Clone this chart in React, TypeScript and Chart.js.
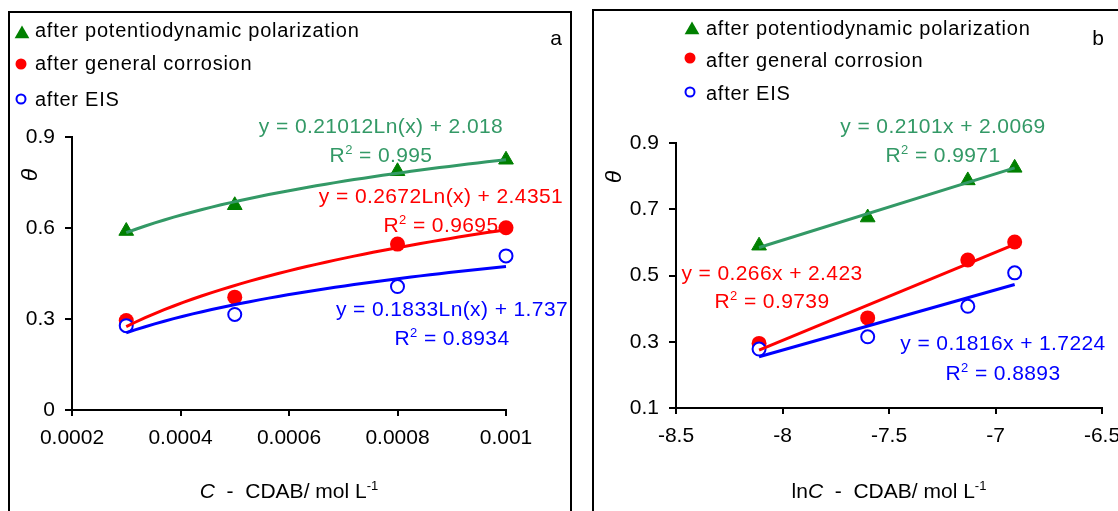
import React, { useEffect, useRef } from 'react';
import { Chart, registerables } from 'chart.js';

Chart.register(...registerables);

// ---------- data ----------
const concentration = [0.0003, 0.0005, 0.0008, 0.001];
const lnConcentration = [-8.11, -7.6, -7.13, -6.91];
const thetaPolarization = [0.59, 0.675, 0.787, 0.825];
const thetaCorrosion = [0.295, 0.372, 0.547, 0.601];
const thetaEIS = [0.278, 0.315, 0.407, 0.508];

const seriesNames = [
  'after potentiodynamic polarization',
  'after general corrosion',
  'after EIS',
];

const xTicksA = [0.0002, 0.0004, 0.0006, 0.0008, 0.001];
const xTickLabelsA = ['0.0002', '0.0004', '0.0006', '0.0008', '0.001'];
const yTicksA = [0, 0.3, 0.6, 0.9];
const yTickLabelsA = ['0', '0.3', '0.6', '0.9'];

const xTicksB = [-8.5, -8, -7.5, -7, -6.5];
const xTickLabelsB = ['-8.5', '-8', '-7.5', '-7', '-6.5'];
const yTicksB = [0.1, 0.3, 0.5, 0.7, 0.9];
const yTickLabelsB = ['0.1', '0.3', '0.5', '0.7', '0.9'];

const equationsA = [
  'y = 0.21012Ln(x) + 2.018',
  'y = 0.2672Ln(x) + 2.4351',
  'y = 0.1833Ln(x) + 1.737',
];
const rSquaredA = ['0.995', '0.9695', '0.8934'];
const equationsB = [
  'y = 0.2101x + 2.0069',
  'y = 0.266x + 2.423',
  'y = 0.1816x + 1.7224',
];
const rSquaredB = ['0.9971', '0.9739', '0.8893'];

// ---------- styles ----------
const FONT = '"Liberation Sans", Arial, Helvetica, sans-serif';
const MARKER_COLORS = ['#008000', '#ff0000', '#0000ff'];
const LINE_COLORS = ['#339966', '#ff0000', '#0000ff'];

function linFit(xs: number[], ys: number[]) {
  const n = xs.length;
  const mx = xs.reduce((a, b) => a + b, 0) / n;
  const my = ys.reduce((a, b) => a + b, 0) / n;
  let sxy = 0;
  let sxx = 0;
  for (let i = 0; i < n; i++) {
    sxy += (xs[i] - mx) * (ys[i] - my);
    sxx += (xs[i] - mx) * (xs[i] - mx);
  }
  const slope = sxy / sxx;
  return { slope, intercept: my - slope * mx };
}

// least-squares trendline of the plotted data (log or linear)
function trendPoints(xs: number[], ys: number[], log: boolean) {
  const n = xs.length;
  if (!log) {
    const f = linFit(xs, ys);
    return [xs[0], xs[n - 1]].map((x) => ({ x, y: f.slope * x + f.intercept }));
  }
  const f = linFit(xs.map(Math.log), ys);
  const pts: { x: number; y: number }[] = [];
  const steps = 40;
  for (let i = 0; i <= steps; i++) {
    const x = xs[0] + ((xs[n - 1] - xs[0]) * i) / steps;
    pts.push({ x, y: f.slope * Math.log(x) + f.intercept });
  }
  return pts;
}

function drawMarker(ctx: CanvasRenderingContext2D, kind: number, x: number, y: number) {
  ctx.save();
  if (kind === 0) {
    const r = 8.5;
    ctx.fillStyle = MARKER_COLORS[0];
    ctx.beginPath();
    ctx.moveTo(x, y - r);
    ctx.lineTo(x + r * 0.866, y + r * 0.5);
    ctx.lineTo(x - r * 0.866, y + r * 0.5);
    ctx.closePath();
    ctx.fill();
  } else if (kind === 1) {
    ctx.fillStyle = MARKER_COLORS[1];
    ctx.beginPath();
    ctx.arc(x, y, 5.5, 0, Math.PI * 2);
    ctx.fill();
  } else {
    ctx.fillStyle = '#fff';
    ctx.strokeStyle = MARKER_COLORS[2];
    ctx.lineWidth = 2;
    ctx.beginPath();
    ctx.arc(x, y, 4.5, 0, Math.PI * 2);
    ctx.fill();
    ctx.stroke();
  }
  ctx.restore();
}

type Part = { t: string; italic?: boolean; sup?: boolean };

function drawRich(ctx: CanvasRenderingContext2D, parts: Part[], cx: number, base: number, size: number, color: string, spacing = '0px') {
  ctx.save();
  ctx.fillStyle = color;
  ctx.textAlign = 'left';
  ctx.textBaseline = 'alphabetic';
  (ctx as any).letterSpacing = spacing;
  const fontOf = (p: Part) => `${p.italic ? 'italic ' : ''}${p.sup ? Math.round(size * 0.62) : size}px ${FONT}`;
  let total = 0;
  const widths = parts.map((p) => {
    ctx.font = fontOf(p);
    const w = ctx.measureText(p.t).width;
    total += w;
    return w;
  });
  let x = cx - total / 2;
  parts.forEach((p, i) => {
    ctx.font = fontOf(p);
    ctx.fillText(p.t, x, p.sup ? base - size * 0.4 : base);
    x += widths[i];
  });
  ctx.restore();
}

type PanelSpec = {
  xs: number[];
  log: boolean;
  xMin: number;
  xMax: number;
  xTicks: number[];
  xLabels: string[];
  yMin: number;
  yMax: number;
  yTicks: number[];
  yLabels: string[];
  equations: string[];
  rSquared: string[];
  width: number;
  height: number;
  padTop: number;
  padRight: number;
  yAxisWidth: number;
  xAxisHeight: number;
  legendMarkerX: number[];
  legendMarkerY: number[];
  legendTextX: number;
  legendBase: number[];
  eqPos: number[][];
  panelLabel: string;
  panelLabelPos: number[];
  thetaPos: number[];
  xTitle: Part[];
  xTitlePos: number[];
};

function Panel({ spec, left, top }: { spec: PanelSpec; left: number; top: number }) {
  const ref = useRef<HTMLCanvasElement | null>(null);

  useEffect(() => {
    const canvas = ref.current;
    if (!canvas) return;
    const series = [thetaPolarization, thetaCorrosion, thetaEIS];

    const overlay = {
      id: 'overlay',
      afterDraw(chart: any) {
        const ctx: CanvasRenderingContext2D = chart.ctx;
        // legend
        series.forEach((_, i) => {
          drawMarker(ctx, i, spec.legendMarkerX[i], spec.legendMarkerY[i]);
          ctx.save();
          ctx.font = `20px ${FONT}`;
          (ctx as any).letterSpacing = '0.75px';
          ctx.fillStyle = '#000';
          ctx.textAlign = 'left';
          ctx.textBaseline = 'alphabetic';
          ctx.fillText(seriesNames[i], spec.legendTextX, spec.legendBase[i]);
          ctx.restore();
        });
        // equations
        spec.equations.forEach((eq, i) => {
          const [cx, b1, b2] = spec.eqPos[i];
          drawRich(ctx, [{ t: eq }], cx, b1, 21, LINE_COLORS[i], '0.4px');
          drawRich(ctx, [{ t: 'R' }, { t: '2', sup: true }, { t: ' = ' + spec.rSquared[i] }], cx, b2, 21, LINE_COLORS[i], '0.4px');
        });
        // panel label
        ctx.save();
        ctx.font = `21px ${FONT}`;
        ctx.fillStyle = '#000';
        ctx.textAlign = 'center';
        ctx.fillText(spec.panelLabel, spec.panelLabelPos[0], spec.panelLabelPos[1]);
        ctx.restore();
        // y title (theta)
        ctx.save();
        ctx.translate(spec.thetaPos[0], spec.thetaPos[1]);
        ctx.rotate(-Math.PI / 2);
        ctx.font = `italic 23px ${FONT}`;
        ctx.fillStyle = '#000';
        ctx.textAlign = 'center';
        ctx.textBaseline = 'middle';
        ctx.fillText('θ', 0, 0);
        ctx.restore();
        // x title
        drawRich(ctx, spec.xTitle, spec.xTitlePos[0], spec.xTitlePos[1], 21, '#000');
      },
    };

    const tickFont = { family: FONT, size: 21 };
    const chart = new Chart(canvas, {
      type: 'scatter',
      data: {
        datasets: [
          ...series.map((ys, i) => ({
            label: seriesNames[i] + ' trend',
            data: trendPoints(spec.xs, ys, spec.log),
            showLine: true,
            borderColor: LINE_COLORS[i],
            borderWidth: 3,
            pointRadius: 0,
            fill: false,
            clip: false,
            order: 0,
          })),
          {
            label: seriesNames[2],
            data: spec.xs.map((x, j) => ({ x, y: thetaEIS[j] })),
            pointStyle: 'circle',
            pointRadius: 6.5,
            backgroundColor: '#ffffff',
            borderColor: MARKER_COLORS[2],
            borderWidth: 2,
            clip: false,
            order: 1,
          },
          {
            label: seriesNames[1],
            data: spec.xs.map((x, j) => ({ x, y: thetaCorrosion[j] })),
            pointStyle: 'circle',
            pointRadius: 7.5,
            backgroundColor: MARKER_COLORS[1],
            borderColor: MARKER_COLORS[1],
            borderWidth: 0,
            clip: false,
            order: 2,
          },
          {
            label: seriesNames[0],
            data: spec.xs.map((x, j) => ({ x, y: thetaPolarization[j] })),
            pointStyle: 'triangle',
            pointRadius: 8.5,
            backgroundColor: MARKER_COLORS[0],
            borderColor: MARKER_COLORS[0],
            borderWidth: 1,
            clip: false,
            order: 3,
          },
        ] as any,
      },
      options: {
        animation: false,
        responsive: false,
        devicePixelRatio: 1,
        events: [],
        layout: { padding: { left: 0, top: spec.padTop, right: spec.padRight, bottom: 0 } },
        plugins: { legend: { display: false }, tooltip: { enabled: false }, title: { display: false } },
        scales: {
          x: {
            type: 'linear',
            min: spec.xMin,
            max: spec.xMax,
            afterBuildTicks: (s: any) => {
              s.ticks = spec.xTicks.map((v) => ({ value: v }));
            },
            afterFit: (s: any) => {
              s.height = spec.xAxisHeight;
            },
            ticks: {
              callback: (_v: any, i: number) => spec.xLabels[i],
              font: tickFont,
              color: '#000',
              padding: 10,
              maxRotation: 0,
              autoSkip: false,
            },
            grid: { drawOnChartArea: false, drawTicks: true, tickLength: 6, color: '#000', lineWidth: 2 },
            border: { display: true, color: '#000', width: 2 },
          },
          y: {
            type: 'linear',
            min: spec.yMin,
            max: spec.yMax,
            afterBuildTicks: (s: any) => {
              s.ticks = spec.yTicks.map((v) => ({ value: v }));
            },
            afterFit: (s: any) => {
              s.width = spec.yAxisWidth;
            },
            ticks: {
              callback: (_v: any, i: number) => spec.yLabels[i],
              font: tickFont,
              color: '#000',
              padding: 10,
              autoSkip: false,
            },
            grid: { drawOnChartArea: false, drawTicks: true, tickLength: 7, color: '#000', lineWidth: 2 },
            border: { display: true, color: '#000', width: 2 },
          },
        },
      } as any,
      plugins: [overlay],
    });
    return () => chart.destroy();
  }, [spec]);

  return (
    <canvas
      ref={ref}
      width={spec.width}
      height={spec.height}
      style={{ position: 'absolute', left, top, width: spec.width, height: spec.height }}
    />
  );
}

const specA: PanelSpec = {
  xs: concentration,
  log: true,
  xMin: 0.0002,
  xMax: 0.001,
  xTicks: xTicksA,
  xLabels: xTickLabelsA,
  yMin: 0,
  yMax: 0.9,
  yTicks: yTicksA,
  yLabels: yTickLabelsA,
  equations: equationsA,
  rSquared: rSquaredA,
  width: 560,
  height: 498,
  padTop: 124,
  padRight: 64,
  yAxisWidth: 62,
  xAxisHeight: 101,
  legendMarkerX: [12, 11, 11],
  legendMarkerY: [21, 51, 86],
  legendTextX: 25,
  legendBase: [24, 57, 93],
  eqPos: [
    [371, 120, 149],
    [431, 190, 219],
    [442, 303, 332],
  ],
  panelLabel: 'a',
  panelLabelPos: [546, 32],
  thetaPos: [21, 162],
  xTitle: [{ t: 'C', italic: true }, { t: '  -  CDAB/ mol L' }, { t: '-1', sup: true }],
  xTitlePos: [279, 485],
};

const specB: PanelSpec = {
  xs: lnConcentration,
  log: false,
  xMin: -8.5,
  xMax: -6.5,
  xTicks: xTicksB,
  xLabels: xTickLabelsB,
  yMin: 0.1,
  yMax: 0.9,
  yTicks: yTicksB,
  yLabels: yTickLabelsB,
  equations: equationsB,
  rSquared: rSquaredB,
  width: 560,
  height: 500,
  padTop: 132,
  padRight: 52,
  yAxisWidth: 82,
  xAxisHeight: 103,
  legendMarkerX: [98, 96, 96],
  legendMarkerY: [19, 47, 81],
  legendTextX: 112,
  legendBase: [24, 56, 89],
  eqPos: [
    [349, 122, 151],
    [178, 269, 297],
    [409, 339, 369],
  ],
  panelLabel: 'b',
  panelLabelPos: [504, 34],
  thetaPos: [21, 166],
  xTitle: [{ t: 'ln' }, { t: 'C', italic: true }, { t: '  -  CDAB/ mol L' }, { t: '-1', sup: true }],
  xTitlePos: [295, 487],
};

export default function App() {
  return (
    <div
      style={{
        position: 'absolute',
        left: 0,
        top: 0,
        width: 1118,
        height: 511,
        overflow: 'hidden',
        background: '#fff',
      }}
    >
      <div
        style={{
          position: 'absolute',
          left: 8,
          top: 11,
          width: 564,
          height: 600,
          border: '2px solid #000',
          boxSizing: 'border-box',
        }}
      />
      <Panel spec={specA} left={10} top={13} />
      <div
        style={{
          position: 'absolute',
          left: 592,
          top: 9,
          width: 600,
          height: 600,
          border: '2px solid #000',
          boxSizing: 'border-box',
        }}
      />
      <Panel spec={specB} left={594} top={11} />
    </div>
  );
}
